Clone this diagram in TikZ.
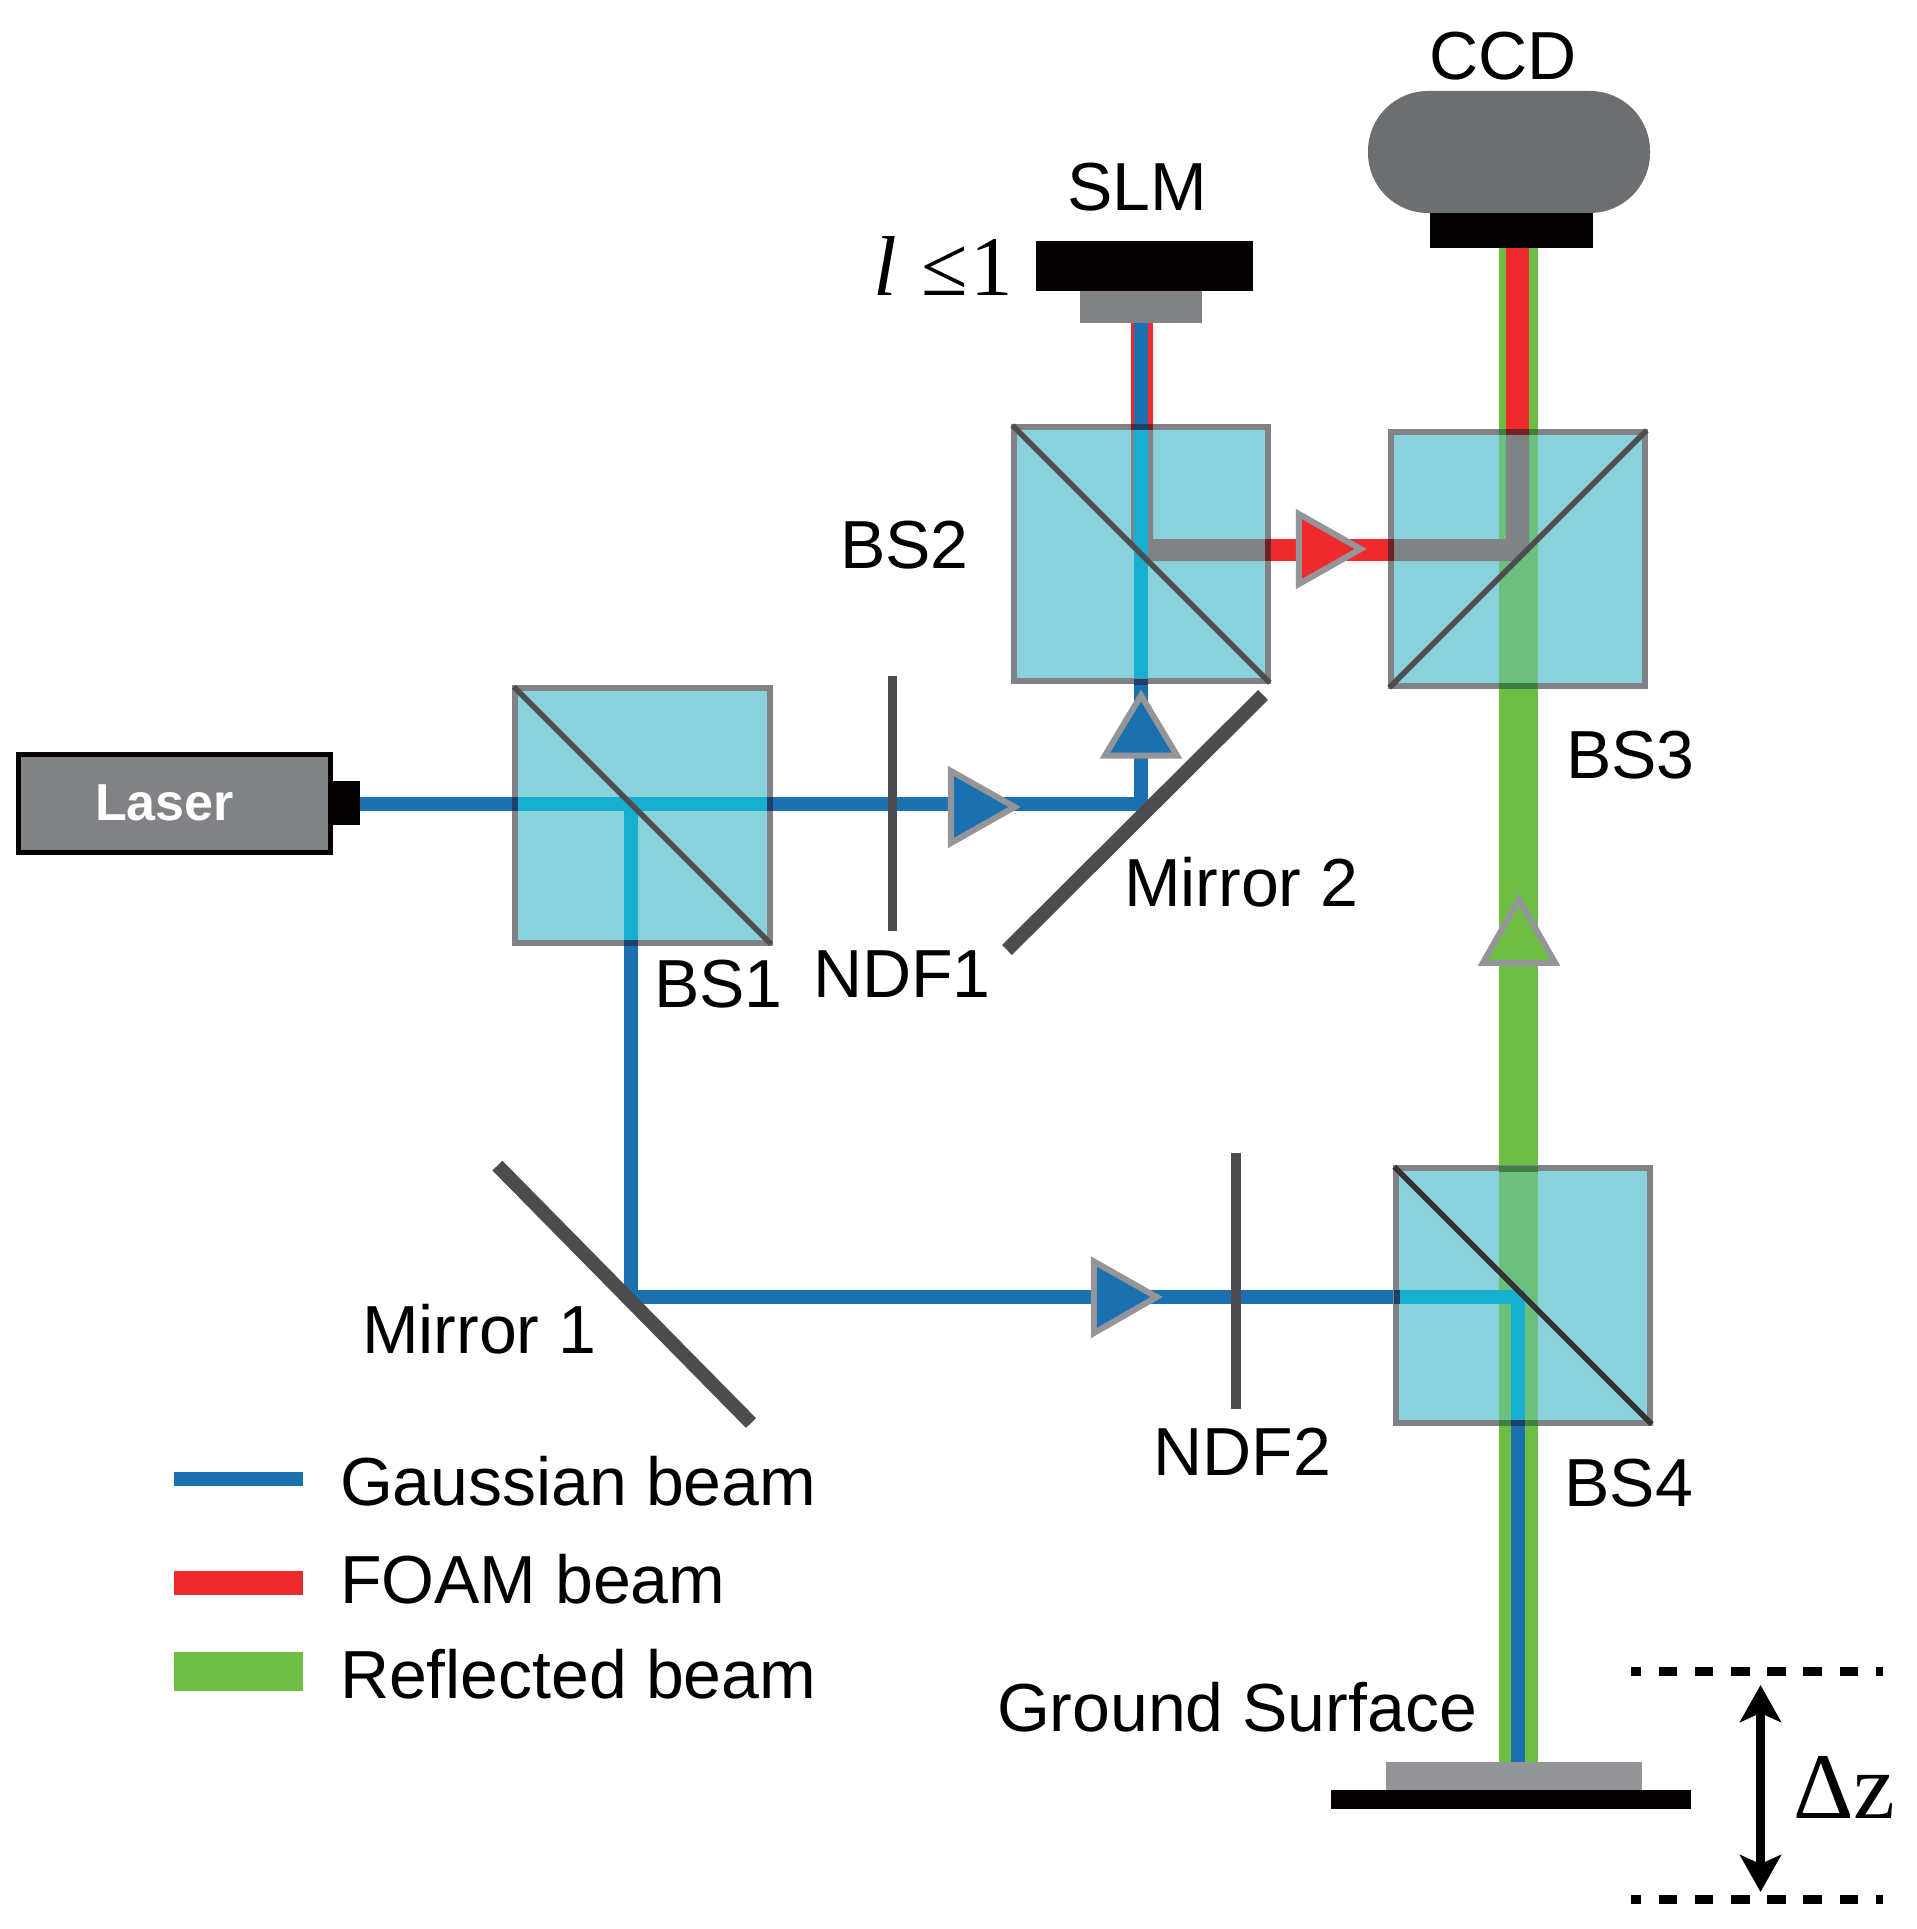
\documentclass[tikz,border=0pt]{standalone}
\usepackage{fontspec}
\setmainfont{Liberation Sans}
\newfontfamily\timesfam{Liberation Serif}
\usetikzlibrary{arrows.meta}
\definecolor{cblue}{HTML}{1B70B0}
\definecolor{ccyan}{HTML}{17AFD0}
\definecolor{cred}{HTML}{EE2A2D}
\definecolor{cgreen}{HTML}{6EBE44}
\definecolor{clgreen}{HTML}{6CBF7C}
\definecolor{cgraybeam}{HTML}{808285}
\definecolor{ccube}{HTML}{89D2DB}
\definecolor{cborder}{HTML}{808285}
\definecolor{cdiag}{HTML}{4D4D4F}
\definecolor{ctri}{HTML}{939598}
\definecolor{cccd}{HTML}{6D6E70}
\definecolor{cblack}{HTML}{060202}
\definecolor{cnavy}{HTML}{1F3F6B}
\definecolor{cdred}{HTML}{6E2127}
\definecolor{cdgreen}{HTML}{3F7F42}
\tikzset{
  lbl/.style={anchor=base west,inner sep=0pt,outer sep=0pt,font=\fontsize{68}{72}\selectfont,text=black},
  block/.style={inner sep=0pt,outer sep=0pt,draw=none},
  cubebox/.style={inner sep=0pt,outer sep=0pt,minimum size=254.5pt,fill=ccube,draw=none},
  cubeedge/.style={draw=cborder,line width=6pt},
  cubediag/.style={draw=cdiag,line width=5.5pt,shorten >=-2pt,shorten <=-2pt},
  thinbeam/.style={line width=14pt,draw=cblue,line join=miter},
  inbeam/.style={line width=14pt,draw=ccyan,line join=miter},
  redbeam/.style={line width=22.5pt,draw=cred,line join=miter},
  greenbeam/.style={line width=39.5pt,draw=cgreen},
  lgreenbeam/.style={line width=39.5pt,draw=clgreen},
  tri/.style={draw=ctri,line width=6pt,line join=miter},
  mirrorbar/.style={draw=cdiag,line width=14pt},
  ndfbar/.style={draw=cdiag,line width=9.5pt},
  dashline/.style={draw=black,line width=9.5pt,dash pattern=on 18.7pt off 17.5pt,dash phase=8.7pt},
}
\begin{document}
\begin{tikzpicture}[x=1pt,y=-1pt]
\useasboundingbox (0,0) rectangle (1916,1929);
% named points
\coordinate (m2) at (1141,804);
\coordinate (m1) at (631,1296.5);
\coordinate (slmfoot) at (1141,323);
\coordinate (slmfootr) at (1142,323);
\coordinate (ccdfootr) at (1517.5,248);
\coordinate (ccdfootg) at (1518.5,248);
\coordinate (gndg) at (1518.5,1762);
\coordinate (gndb) at (1518,1762);
\coordinate (rbs2) at (1142,550);
\coordinate (rbs3) at (1517.5,550);
\coordinate (splitone) at (631,804);
\coordinate (corner4) at (1518,1296.5);
% outer beams
\draw[greenbeam] (ccdfootg) -- (gndg);
\draw[redbeam] (slmfootr) -- (rbs2) -- (rbs3) -- (ccdfootr);
\node[block,fill=cblack,minimum width=27pt,minimum height=44pt] (lasertip) at (346.5,803) {};
\draw[thinbeam] (lasertip.east |- splitone) -- (m2) -- (slmfoot);
\draw[thinbeam] (splitone) -- (m1) -- (corner4) -- (gndb);
% cubes
\node[cubebox] (bs1) at (642.5,815.5) {};
\node[cubebox] (bs2) at (1141,554) {};
\node[cubebox] (bs3) at (1518,559) {};
\node[cubebox] (bs4) at (1523,1295.5) {};
% beams seen through the cubes
\draw[lgreenbeam] (1518.5,429) -- (1518.5,689);
\draw[lgreenbeam] (1518.5,1166) -- (1518.5,1425);
\fill[cgraybeam] (1131,424) -- (1153,424) -- (1153,539) -- (1271,539) -- (1271,561) -- (1148,561) -- (1131,544) -- cycle;
\fill[cgraybeam] (1388,539) -- (1506,539) -- (1506,429) -- (1529,429) -- (1529,548) -- (1516,561) -- (1388,561) -- cycle;
\draw[inbeam] (512,804) -- (773,804);
\draw[inbeam] (splitone) -- (631,945);
\draw[inbeam] (1141,424) -- (1141,684);
\draw[inbeam] (1394,1296.5) -- (corner4) -- (1518,1425);
% cube edges and splitting faces
\foreach \c in {bs1,bs2,bs3,bs4}{\draw[cubeedge] (\c.north west) rectangle (\c.south east);}
% beam crossings with the cube edges
\fill[cnavy] (512,797) rectangle (518,811);
\fill[cnavy] (767,797) rectangle (773,811);
\fill[cnavy] (624,940) rectangle (638,946);
\fill[cdred] (1131,423.5) rectangle (1153,429.5);
\fill[cnavy] (1134,423.5) rectangle (1148,429.5);
\fill[cnavy] (1134,678.5) rectangle (1148,684.5);
\fill[cdred] (1265,539) rectangle (1271,561);
\fill[cdred] (1388,539) rectangle (1394,561);
\fill[cdgreen] (1499,429) rectangle (1538,435);
\fill[cdred] (1506,429) rectangle (1529,435);
\fill[cdgreen] (1499,683) rectangle (1538,689);
\fill[cnavy] (1393.5,1289.5) rectangle (1399.5,1303.5);
\fill[cdgreen] (1499,1165.5) rectangle (1538,1171.5);
\fill[cdgreen] (1499,1419.5) rectangle (1538,1425.5);
\fill[cnavy] (1511,1419.5) rectangle (1525,1425.5);
\draw[cubediag] (bs1.north west) -- (bs1.south east);
\draw[cubediag] (bs2.north west) -- (bs2.south east);
\draw[cubediag] (bs3.south west) -- (bs3.north east);
\draw[cubediag,draw=black!80] (bs4.north west) -- (bs4.south east);
% filters and mirrors
\coordinate (ndfa) at (892.5,675.5); \coordinate (ndfb) at (892.5,931);
\coordinate (ndfc) at (1236,1153); \coordinate (ndfd) at (1236,1409);
\draw[ndfbar] (ndfa) -- (ndfb);
\draw[ndfbar] (ndfc) -- (ndfd);
\coordinate (mia) at (497.4,1165.6); \coordinate (mib) at (751,1423);
\coordinate (mja) at (1263,695); \coordinate (mjb) at (1007,950);
\draw[mirrorbar] (mia) -- (mib);
\draw[mirrorbar] (mja) -- (mjb);
% direction triangles
\draw[tri,fill=cblue] (1141,695.4) -- (1177.1,755.7) -- (1104.9,755.7) -- cycle;
\draw[tri,fill=cgreen] (1519,899.4) -- (1555.1,962.8) -- (1482.9,962.8) -- cycle;
\draw[tri,fill=cblue] (950.8,770.9) -- (1014.6,807) -- (950.8,843.1) -- cycle;
\draw[tri,fill=cred] (1298.8,513.9) -- (1360.6,549) -- (1298.8,584.1) -- cycle;
\draw[tri,fill=cblue] (1093.8,1261.4) -- (1156.6,1297) -- (1093.8,1333.1) -- cycle;
% devices
\node[block,fill=cgraybeam,draw=cblack,line width=5pt,minimum width=312pt,minimum height=98pt] (laser) at (174.5,803.5) {};
\node[anchor=base west,inner sep=0pt,text=white,font=\fontsize{52}{54}\selectfont\bfseries] (lasertext) at (95,820) {Laser};
\node[block,fill=cblack,minimum width=217pt,minimum height=50pt] (slm) at (1144.5,266) {};
\node[block,fill=cgraybeam,minimum width=122pt,minimum height=32pt] (slmbase) at (1141,307) {};
\node[block,fill=cccd,minimum width=282pt,minimum height=122pt,rounded corners=60pt] (ccd) at (1509,152) {};
\node[block,fill=cblack,minimum width=163pt,minimum height=35pt] (ccdfront) at (1511.5,230.5) {};
\node[block,fill=ctri,minimum width=256pt,minimum height=28pt] (sample) at (1514,1776) {};
\node[block,fill=cblack,minimum width=360pt,minimum height=18.6pt] (stage) at (1511,1799.3) {};
% depth range
\coordinate (da) at (1631,1671.7); \coordinate (db) at (1883,1671.7);
\coordinate (dc) at (1631,1899.5); \coordinate (dd) at (1883,1899.5);
\draw[dashline] (da) -- (db);
\draw[dashline] (dc) -- (dd);
\coordinate (dzt) at (1760.5,1685); \coordinate (dzb) at (1760.5,1892);
\draw[draw=black,fill=black,line width=9pt,{Stealth[length=37pt,width=41pt,inset=9pt]}-{Stealth[length=37pt,width=41pt,inset=9pt]}] (dzt) -- (dzb);
% legend
\coordinate (la) at (174,1479); \coordinate (lb) at (303,1479);
\coordinate (lc) at (174,1583); \coordinate (ld) at (303,1583);
\coordinate (le) at (174,1671.5); \coordinate (lf) at (303,1671.5);
\draw[draw=cblue,line width=14pt] (la) -- (lb);
\draw[draw=cred,line width=23.4pt] (lc) -- (ld);
\draw[draw=cgreen,line width=39pt] (le) -- (lf);
% labels
\node[lbl] (tbs1) at (654,1007) {BS1};
\node[lbl] (tbs2) at (840,568) {BS2};
\node[lbl] (tbs3) at (1566,778) {BS3};
\node[lbl] (tbs4) at (1564.5,1506) {BS4};
\node[lbl] (tndf1) at (813,997) {NDF1};
\node[lbl] (tndf2) at (1153.5,1475) {NDF2};
\node[lbl] (tm1) at (362,1353.5) {Mirror 1};
\node[lbl] (tm2) at (1124,906) {Mirror 2};
\node[lbl] (tccd) at (1429,80) {CCD};
\node[lbl] (tslm) at (1067,210.5) {SLM};
\node[lbl] (tgs) at (997,1731) {Ground Surface};
\node[lbl] (tl1) at (340,1505.5) {Gaussian beam};
\node[lbl] (tl2) at (340,1603) {FOAM beam};
\node[lbl] (tl3) at (340,1698) {Reflected beam};
\node[lbl,font=\fontsize{85}{92}\selectfont\timesfam] (tl) at (873,295) {{\itshape l} \kern3.5pt≤\kern2.5pt 1};
\node[lbl,font=\fontsize{94}{98}\selectfont\timesfam] (tdz) at (1793,1818) {Δz};
\end{tikzpicture}
\end{document}
